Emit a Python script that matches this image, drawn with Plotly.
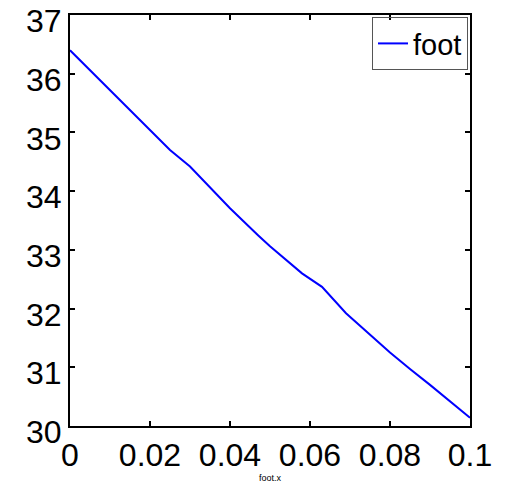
import plotly.graph_objects as go

x_vals = [0.0, 0.01, 0.02, 0.025, 0.03, 0.04, 0.047, 0.05, 0.058, 0.063, 0.069, 0.08, 0.085, 0.09, 0.1]
y_vals = [36.40, 35.72, 35.04, 34.70, 34.42, 33.71, 33.25, 33.06, 32.60, 32.37, 31.92, 31.25, 30.97, 30.70, 30.14]
x_ticks = [0, 0.02, 0.04, 0.06, 0.08, 0.1]
x_tick_labels = ["0", "0.02", "0.04", "0.06", "0.08", "0.1"]
y_ticks = [30, 31, 32, 33, 34, 35, 36, 37]

font_main = "Liberation Sans, Arial, Helvetica, sans-serif"

fig = go.Figure()
fig.add_trace(go.Scatter(x=x_vals, y=y_vals, mode="lines", name="foot",
                         line=dict(color="#0000ff", width=2)))

fig.update_layout(
    width=509, height=489,
    margin=dict(l=70, r=39, t=15, b=63, autoexpand=False),
    paper_bgcolor="white", plot_bgcolor="white",
    showlegend=True,
    legend=dict(x=0.995, xanchor="right", y=0.995, yanchor="top",
                bgcolor="rgba(255,255,255,0)", bordercolor="#555555", borderwidth=1,
                font=dict(family=font_main, size=29, color="black"),
                itemwidth=30, tracegroupgap=0),
    xaxis=dict(range=[0, 0.1], tickvals=x_ticks, ticktext=x_tick_labels,
               ticks="inside", ticklen=5, tickwidth=1.5, tickcolor="black",
               showline=True, linecolor="black", linewidth=2, mirror="ticks",
               showgrid=False, zeroline=False, automargin=False,
               ticklabeloverflow="allow",
               tickfont=dict(family=font_main, size=32, color="black"),
               title=dict(text="foot.x", font=dict(family=font_main, size=9, color="black"), standoff=2)),
    yaxis=dict(range=[30, 37], tickvals=y_ticks,
               ticks="inside", ticklen=5, tickwidth=1.5, tickcolor="black",
               showline=True, linecolor="black", linewidth=2, mirror="ticks",
               showgrid=False, zeroline=False, automargin=False,
               ticklabeloverflow="allow",
               ticklabelshift=6, ticklabelstandoff=0,
               tickfont=dict(family=font_main, size=32, color="black")),
)

fig.write_html("out.html", config={"displayModeBar": False},
               post_script="document.body.style.margin='0px';")
